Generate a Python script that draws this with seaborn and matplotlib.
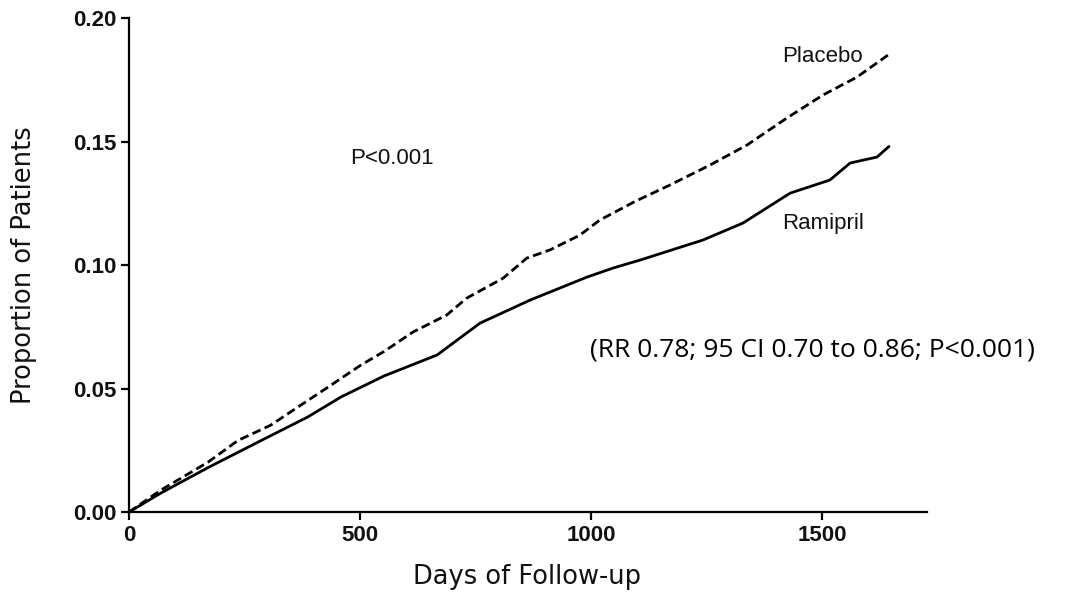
import matplotlib
matplotlib.use("Agg")
import matplotlib.pyplot as plt
import seaborn as sns
import pandas as pd

# Data
placebo_days = [0, 69, 171, 236, 307, 372, 431, 502, 552, 615, 688, 731, 810, 861,
                911, 976, 1019, 1095, 1171, 1258, 1338, 1424, 1502, 1576, 1643]
placebo_prop = [0.0, 0.0089, 0.0202, 0.0290, 0.0352, 0.0433, 0.0506, 0.0595, 0.0650,
                0.0729, 0.0798, 0.0866, 0.0947, 0.1028, 0.1061, 0.1121, 0.1182, 0.1257,
                0.1324, 0.1405, 0.1486, 0.1595, 0.1688, 0.1761, 0.1850]
ramipril_days = [0, 69, 171, 279, 387, 459, 552, 667, 760, 868, 991, 1048, 1106,
                 1242, 1329, 1431, 1517, 1561, 1619, 1645]
ramipril_prop = [0.0, 0.0077, 0.0180, 0.0283, 0.0385, 0.0466, 0.0551, 0.0636, 0.0765,
                 0.0858, 0.0951, 0.0988, 0.1020, 0.1101, 0.1170, 0.1291, 0.1344,
                 0.1413, 0.1437, 0.1480]
x_ticks = [0, 500, 1000, 1500]
y_ticks = [0.00, 0.05, 0.10, 0.15, 0.20]

df = pd.concat([
    pd.DataFrame({"days": placebo_days, "prop": placebo_prop, "group": "Placebo"}),
    pd.DataFrame({"days": ramipril_days, "prop": ramipril_prop, "group": "Ramipril"}),
])

sns.set_theme(style="ticks")
plt.rcParams["font.family"] = ["Liberation Sans", "DejaVu Sans"]

fig = plt.figure(figsize=(10.74, 5.99), dpi=100)
ax = fig.add_axes([0.120, 0.145, 0.743, 0.825])

sns.lineplot(data=df, x="days", y="prop", style="group",
             dashes={"Placebo": (3.2, 1.6), "Ramipril": ""},
             color="black", linewidth=2.0, estimator=None, sort=False,
             legend=False, ax=ax)

ax.set_xlim(0, 1727)
ax.set_ylim(0, 0.20)
ax.set_xticks(x_ticks)
ax.set_xticklabels([str(t) for t in x_ticks], fontsize=16, fontweight="bold")
ax.set_yticks(y_ticks)
ax.set_yticklabels([f"{t:.2f}" for t in y_ticks], fontsize=16, fontweight="bold")
ax.tick_params(direction="out", length=6, width=1.6, color="black",
               labelcolor="#111111", pad=3)
for s in ["top", "right"]:
    ax.spines[s].set_visible(False)
for s in ["left", "bottom"]:
    ax.spines[s].set_linewidth(1.6)
    ax.spines[s].set_color("black")

ax.set_xlabel("Days of Follow-up", fontsize=18.5, family=["DejaVu Sans"], color="#111111")
ax.set_ylabel("Proportion of Patients", fontsize=18.5, family=["DejaVu Sans"], color="#111111")
ax.xaxis.set_label_coords(0.499, -0.105)
ax.yaxis.set_label_coords(-0.115, 0.5)

ax.text(1413, 0.1846, "Placebo", fontsize=16, ha="left", va="center", color="#111111")
ax.text(1413, 0.117, "Ramipril", fontsize=16, ha="left", va="center", color="#111111")
ax.text(478, 0.1433, "P<0.001", fontsize=16, ha="left", va="center", color="#111111")
fig.text(0.549, 0.416, "(RR 0.78; 95 CI 0.70 to 0.86; P<0.001)", fontsize=19,
         family=["Open Sans", "DejaVu Sans"], ha="left", va="center", color="black")

fig.savefig("out.png", dpi=100)
